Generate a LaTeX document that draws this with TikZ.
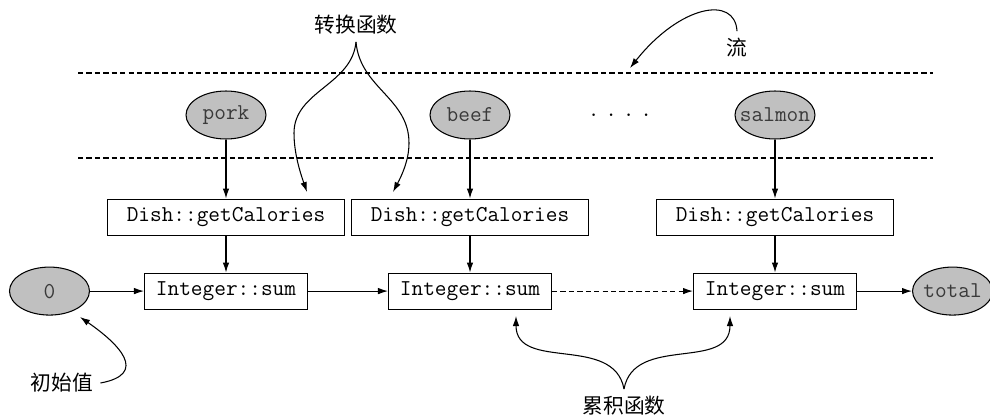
\documentclass[tikz,border=0pt]{standalone}
\usepackage{fontspec}
\newfontfamily\cjk{Noto Sans CJK SC}
\usepackage{xcolor}
\definecolor{FoodGray}{HTML}{C0C0C0}
\definecolor{TextGray}{HTML}{3A3A3A}
\usetikzlibrary{shapes.geometric, arrows.meta, positioning}
\newcommand{\ctext}[1]{\makebox[0pt]{#1}}
\tikzset{
  fn/.style={ellipse, draw, line width=0.6pt, fill=FoodGray, text=TextGray,
             minimum width=1.6cm, minimum height=0.96cm, inner sep=0pt,
             font=\ttfamily\fontsize{12.9}{15}\selectfont},
  bx/.style={rectangle, draw, line width=0.6pt, minimum width=#1, minimum height=0.72cm,
             inner sep=0pt, font=\ttfamily\fontsize{12.9}{15}\selectfont},
  lbl/.style={inner sep=4pt, font=\cjk\fontsize{11.8}{14}\selectfont},
  arr/.style={-{Latex[length=2mm,width=1.3mm]}, line width=0.6pt},
  darr/.style={arr, dash pattern=on 3pt off 1.8pt},
  sep/.style={line width=0.6pt, dash pattern=on 3pt off 1.8pt},
}

\begin{document}
\begin{tikzpicture}[x=0.02cm, y=-0.02cm]
  \useasboundingbox (0,0) rectangle (990,416);

  % Stream band
  \draw[sep] (78,73) -- (933,73);
  \draw[sep] (78,158) -- (933,158);
  \node[fn] (pork) at (226,115) {\ctext{pork}};
  \node[fn] (beef) at (470,115) {\ctext{beef}};
  \node[fn] (salmon) at (775,115) {\ctext{salmon}};
  \node[font=\ttfamily\fontsize{12.9}{15}\selectfont] (dots) at (620,115)
    {.\hskip3.3pt.\hskip3.3pt.\hskip3.3pt.};

  % Mapping
  \node[bx=4.74cm, below=1.18cm of pork] (dish1) {Dish::getCalories};
  \node[bx=4.74cm, below=1.18cm of beef] (dish2) {Dish::getCalories};
  \node[bx=4.74cm, below=1.18cm of salmon] (dish3) {Dish::getCalories};

  % Reduction
  \node[bx=3.26cm, below=0.74cm of dish1] (sum1) {Integer::sum};
  \node[bx=3.26cm, below=0.74cm of dish2] (sum2) {Integer::sum};
  \node[bx=3.26cm, below=0.74cm of dish3] (sum3) {Integer::sum};
  \node[fn, left=1.08cm of sum1] (zero) {\ctext{0}};
  \node[fn, right=1.1cm of sum3] (total) {\ctext{total}};

  % Labels
  \node[lbl] (conv) at (356,25) {转换函数};
  \node[lbl] (flow) at (737,48) {流};
  \node[lbl] (init) at (62,383) {初始值};
  \node[lbl] (accum) at (624,406) {累积函数};
  \coordinate (convl) at (307,192);
  \coordinate (convr) at (393,192);
  \coordinate (flowtip) at (630,68);
  \coordinate (inittip) at (80,317);
  \coordinate (accl) at (516,316);
  \coordinate (accr) at (730,316);

  % Arrows
  \draw[arr] (pork.south) -- (dish1.north);
  \draw[arr] (beef.south) -- (dish2.north);
  \draw[arr] (salmon.south) -- (dish3.north);
  \draw[arr] (dish1.south) -- (sum1.north);
  \draw[arr] (dish2.south) -- (sum2.north);
  \draw[arr] (dish3.south) -- (sum3.north);
  \draw[arr] (zero.east) -- (sum1.west);
  \draw[arr] (sum1.east) -- (sum2.west);
  \draw[darr] (sum2.east) -- (sum3.west);
  \draw[arr] (sum3.east) -- (total.west);

  % Callouts
  \draw[arr] (conv.south) .. controls (352,85) and (294,91) .. (294,133)
    .. controls (294,153) and (300,172) .. (convl);
  \draw[arr] (conv.south) .. controls (360,88) and (409,98) .. (409,143)
    .. controls (409,160) and (402,175) .. (convr);
  \draw[arr] (flow.north) .. controls (735,-5) and (680,5) .. (flowtip);
  \draw[arr] (init.east) .. controls (149,374) and (119,344) .. (inittip);
  \draw[arr] (accum.north) .. controls (614,334) and (516,372) .. (accl);
  \draw[arr] (accum.north) .. controls (634,334) and (730,372) .. (accr);

\end{tikzpicture}
\end{document}
